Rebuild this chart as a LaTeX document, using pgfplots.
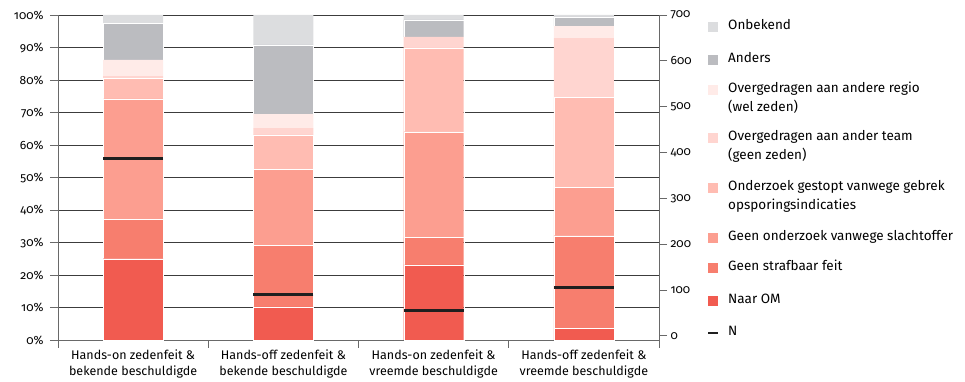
\documentclass[border=0pt]{standalone}
\usepackage{pgfplots}
\pgfplotsset{compat=1.18}
\usepackage{fontspec}
\setmainfont{Fira Sans}[Numbers=OldStyle]
\definecolor{cOM}{RGB}{241,91,80}
\definecolor{cGS}{RGB}{247,126,110}
\definecolor{cGO}{RGB}{252,158,144}
\definecolor{cOG}{RGB}{255,188,178}
\definecolor{cT}{RGB}{255,213,208}
\definecolor{cR}{RGB}{255,235,232}
\definecolor{cA}{RGB}{187,188,192}
\definecolor{cU}{RGB}{220,221,223}
\definecolor{axgray}{RGB}{105,105,105}
\definecolor{gridc}{RGB}{60,60,60}
\pgfplotstableread{
x OM GS GO OG T R A U
0 25.0 12.1 37.1 6.4 0.6 5.0 11.2 2.6
1 10.2 19.0 23.4 10.5 2.1 4.3 21.3 9.2
2 23.1 8.5 32.5 25.8 3.4 0.0 5.2 1.5
3 3.6 28.5 14.8 27.7 18.3 3.7 2.9 0.5
}\shares
\pgfplotstableread{
x N
0 386
1 91
2 55
3 106
}\ntable
\begin{document}
\begin{tikzpicture}
\begin{axis}[name=ax, scale only axis, width=601pt, height=325pt,
  xmin=-0.5, xmax=3.5, ymin=0, ymax=100,
  ybar stacked, bar width=60pt,
  axis x line*=bottom, axis y line*=left,
  axis line style={axgray, line width=0.8pt, -},
  tick align=outside, major tick length=8pt,
  tick style={axgray, line width=0.8pt},
  ytick={0,10,...,100},
  yticklabel={\pgfmathprintnumber{\tick}\%},
  yticklabel style={font=\fontsize{12}{14}\selectfont, xshift=-3pt},
  /pgf/number format/assume math mode=true,
  ymajorgrids, grid style={gridc, line width=0.9pt},
  xtick={-0.5,0.5,1.5,2.5,3.5}, xticklabels={},
  clip=false,
]
\addplot[fill=cOM, draw=white, line width=0.2pt] table[x=x,y=OM]{\shares};
\addplot[fill=cGS, draw=white, line width=0.2pt] table[x=x,y=GS]{\shares};
\addplot[fill=cGO, draw=white, line width=0.2pt] table[x=x,y=GO]{\shares};
\addplot[fill=cOG, draw=white, line width=0.2pt] table[x=x,y=OG]{\shares};
\addplot[fill=cT, draw=none] table[x=x,y=T]{\shares};
\addplot[fill=cR, draw=none] table[x=x,y=R]{\shares};
\addplot[fill=cA, draw=white, line width=0.2pt] table[x=x,y=A]{\shares};
\addplot[fill=cU, draw=none] table[x=x,y=U]{\shares};
\end{axis}
\begin{axis}[scale only axis, width=601pt, height=325pt,
  xmin=-0.5, xmax=3.5, ymin=-9, ymax=700,
  axis y line*=right, axis x line*=bottom,
  x axis line style={draw=none},
  y axis line style={axgray, line width=0.8pt, -, shorten <=-5pt},
  tick align=outside, major tick length=8pt,
  ytick style={axgray, line width=0.8pt},
  xtick style={draw=none},
  ytick={0,100,...,700},
  yticklabel style={font=\fontsize{12}{14}\selectfont},
  /pgf/number format/assume math mode=true,
  xtick={0,1,2,3},
  xticklabels={{Hands-on zedenfeit \&\\bekende beschuldigde},{Hands-off zedenfeit \&\\bekende beschuldigde},{Hands-on zedenfeit \&\\vreemde beschuldigde},{Hands-off zedenfeit \&\\vreemde beschuldigde}},
  xticklabel style={align=center, font=\fontsize{12.5}{16}\selectfont, yshift=2pt},
  clip=false,
]
\addplot[only marks, mark=-, mark size=30pt, mark options={line width=3pt, draw=black!88}] table[x=x,y=N]{\ntable};
\end{axis}
\coordinate (O) at ([xshift=-58pt,yshift=15pt]ax.north west);
\path (O) rectangle ([xshift=965pt,yshift=-379pt]O);
\begin{scope}[font=\fontsize{13.5}{15}\selectfont]
\def\sq#1#2{\fill[#1] ([xshift=708pt,yshift=-#2pt+5pt]O) rectangle ([xshift=718pt,yshift=-#2pt-5pt]O);}
\def\tx#1#2{\node[anchor=mid west, inner sep=0pt] at ([xshift=728pt,yshift=-#1pt]O) {#2};}
\sq{cU}{27}\tx{27}{Onbekend}
\sq{cA}{60}\tx{60}{Anders}
\sq{cR}{90}\tx{90}{Overgedragen aan andere regio}\tx{109}{(wel zeden)}
\sq{cT}{138}\tx{138}{Overgedragen aan ander team}\tx{157}{(geen zeden)}
\sq{cOG}{188}\tx{188}{Onderzoek gestopt vanwege gebrek}\tx{207}{opsporingsindicaties}
\sq{cGO}{238}\tx{238}{Geen onderzoek vanwege slachtoffer}
\sq{cGS}{268}\tx{268}{Geen strafbaar feit}
\sq{cOM}{301}\tx{301}{Naar OM}
\draw[black!88, line width=2pt] ([xshift=708pt,yshift=-333pt]O) -- ([xshift=718pt,yshift=-333pt]O);
\tx{333}{N}
\end{scope}
\end{tikzpicture}
\end{document}
